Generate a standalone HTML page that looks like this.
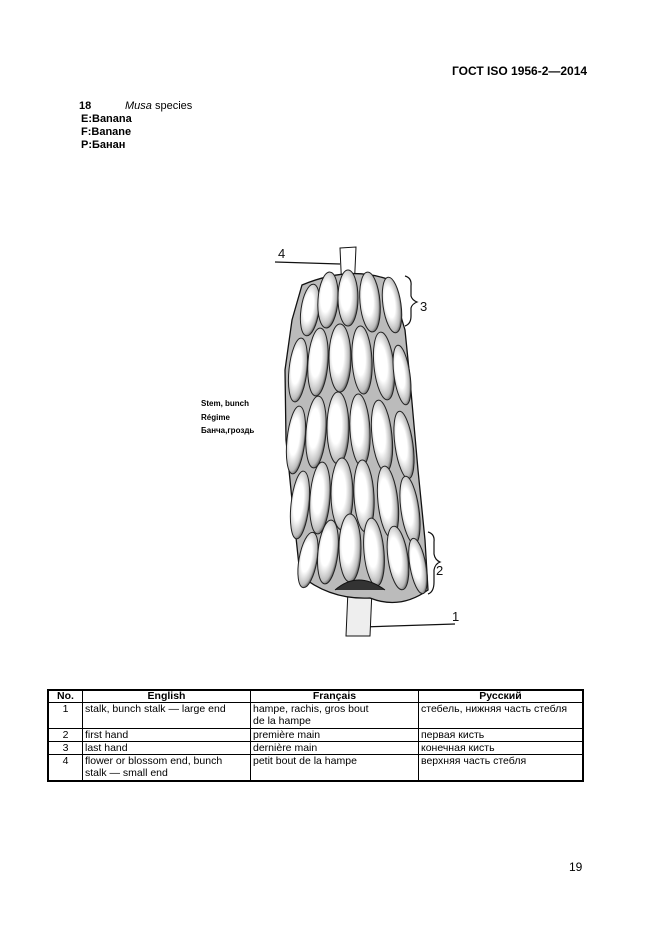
<!DOCTYPE html>
<html><head><meta charset="utf-8"><style>
body{margin:0;background:#fff;}
#p{position:relative;width:661px;height:935px;overflow:hidden;font-family:"Liberation Sans",Arial,sans-serif;color:#000;}
.t{position:absolute;white-space:nowrap;}
table{position:absolute;left:47px;top:689px;width:537px;border-collapse:collapse;font-size:10.5px;border:2px solid #000;}
td,th{border:1px solid #000;padding:0 2px;vertical-align:top;line-height:12px;}
th{font-weight:bold;text-align:center;height:11px;line-height:11px;}
</style></head><body><div id="p">
<div class="t" style="left:452px;top:64px;font-size:12px;font-weight:bold;">ГОСТ ISO 1956-2—2014</div>
<div class="t" style="left:79px;top:100px;font-size:11px;font-weight:bold;">18</div>
<div class="t" style="left:125px;top:100px;font-size:11px;"><i>Musa</i> species</div>
<div class="t" style="left:81px;top:113px;font-size:11px;font-weight:bold;line-height:13px;">E:Banana<br>F:Banane<br>P:Банан</div>
<div class="t" style="left:201px;top:397px;font-size:8px;font-weight:bold;line-height:13.5px;">Stem, bunch<br>Régime<br>Банча,гроздь</div>
<svg style="position:absolute;left:0;top:0" width="661" height="935">
<defs>
<radialGradient id="g" cx="0.4" cy="0.45" r="0.6"><stop offset="0.45" stop-color="#fff"/><stop offset="0.85" stop-color="#bbb"/><stop offset="1" stop-color="#555"/></radialGradient>
</defs>
<g fill="none" stroke="#111" stroke-width="1.2">
<path d="M275 262 L340 264"/><path d="M362 627 L455 624"/>
<path d="M405 276 q7 2 6 10 v10 q1 4 6 6 q-5 2 -6 6 v8 q0 8 -6 10"/>
<path d="M428 532 q7 2 6 10 v12 q1 6 6 8 q-5 2 -6 8 v12 q0 10 -6 12"/>
</g>
<g font-family="Liberation Sans" font-size="13" fill="#111"><text x="278" y="258">4</text><text x="420" y="311">3</text><text x="436" y="575">2</text><text x="452" y="621">1</text></g>
<path d="M340 248 L356 247 L354 292 L342 292 Z" fill="#fff" stroke="#111"/>
<path d="M348 590 L372 590 L370 636 L346 636 Z" fill="#eee" stroke="#111"/>
<path d="M302 285 Q350 265 390 280 L405 330 L410 380 L418 470 L425 540 L428 590 Q400 610 370 598 Q330 600 300 575 L292 500 L286 440 L285 370 L292 320 Z" fill="#bbb" stroke="#111" stroke-width="1.3"/>
<g fill="url(#g)" stroke="#222" stroke-width="1">
<ellipse cx="310" cy="310" rx="9" ry="26" transform="rotate(8 310 310)"/>
<ellipse cx="328" cy="300" rx="10" ry="28" transform="rotate(4 328 300)"/>
<ellipse cx="348" cy="298" rx="10" ry="28"/>
<ellipse cx="370" cy="302" rx="10" ry="30" transform="rotate(-5 370 302)"/>
<ellipse cx="392" cy="305" rx="9" ry="28" transform="rotate(-8 392 305)"/>
<ellipse cx="298" cy="370" rx="9" ry="32" transform="rotate(6 298 370)"/>
<ellipse cx="318" cy="362" rx="10" ry="34" transform="rotate(4 318 362)"/>
<ellipse cx="340" cy="358" rx="11" ry="34"/>
<ellipse cx="362" cy="360" rx="10" ry="34" transform="rotate(-3 362 360)"/>
<ellipse cx="384" cy="366" rx="10" ry="34" transform="rotate(-6 384 366)"/>
<ellipse cx="402" cy="375" rx="8" ry="30" transform="rotate(-8 402 375)"/>
<ellipse cx="296" cy="440" rx="9" ry="34" transform="rotate(6 296 440)"/>
<ellipse cx="316" cy="432" rx="10" ry="36" transform="rotate(4 316 432)"/>
<ellipse cx="338" cy="428" rx="11" ry="36"/>
<ellipse cx="360" cy="430" rx="10" ry="36" transform="rotate(-3 360 430)"/>
<ellipse cx="382" cy="436" rx="10" ry="36" transform="rotate(-6 382 436)"/>
<ellipse cx="404" cy="445" rx="9" ry="34" transform="rotate(-8 404 445)"/>
<ellipse cx="300" cy="505" rx="9" ry="34" transform="rotate(6 300 505)"/>
<ellipse cx="320" cy="498" rx="10" ry="36" transform="rotate(4 320 498)"/>
<ellipse cx="342" cy="494" rx="11" ry="36"/>
<ellipse cx="364" cy="496" rx="10" ry="36" transform="rotate(-3 364 496)"/>
<ellipse cx="388" cy="502" rx="10" ry="36" transform="rotate(-6 388 502)"/>
<ellipse cx="410" cy="510" rx="9" ry="34" transform="rotate(-8 410 510)"/>
<ellipse cx="308" cy="560" rx="9" ry="28" transform="rotate(10 308 560)"/>
<ellipse cx="328" cy="552" rx="10" ry="32" transform="rotate(6 328 552)"/>
<ellipse cx="350" cy="548" rx="11" ry="34"/>
<ellipse cx="374" cy="552" rx="10" ry="34" transform="rotate(-5 374 552)"/>
<ellipse cx="398" cy="558" rx="10" ry="32" transform="rotate(-8 398 558)"/>
<ellipse cx="418" cy="566" rx="8" ry="28" transform="rotate(-10 418 566)"/>
</g>
<path d="M335 590 Q358 570 385 590" fill="#333" stroke="#111"/>
</svg>
<table>
<tr><th style="width:29px">No.</th><th style="width:163px">English</th><th style="width:163px">Français</th><th>Русский</th></tr>
<tr style="height:26px"><td style="text-align:center">1</td><td>stalk, bunch stalk — large end</td><td>hampe, rachis, gros bout<br>de la hampe</td><td>стебель, нижняя часть стебля</td></tr>
<tr><td style="text-align:center">2</td><td>first hand</td><td>première main</td><td>первая кисть</td></tr>
<tr><td style="text-align:center">3</td><td>last hand</td><td>dernière main</td><td>конечная кисть</td></tr>
<tr style="height:26px"><td style="text-align:center">4</td><td>flower or blossom end, bunch<br>stalk — small end</td><td>petit bout de la hampe</td><td>верхняя часть стебля</td></tr>
</table>
<div class="t" style="left:569px;top:860px;font-size:12px;">19</div>
</div></body></html>
